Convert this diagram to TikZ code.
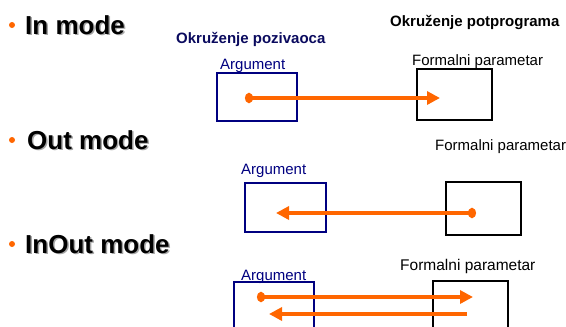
\documentclass[tikz,border=0pt]{standalone}
\usepackage{fontspec}
\setmainfont{Liberation Sans}
\usetikzlibrary{arrows.meta}
\definecolor{flow}{HTML}{FF6600}
\definecolor{callerblue}{HTML}{000080}
\definecolor{headblue}{HTML}{0A0A5E}
\tikzset{
  title/.style={anchor=base west, inner sep=0pt, font=\fontsize{26}{30}\selectfont\bfseries},
  titleshadow/.style={title, text=black!35},
  bulletdot/.style={circle, fill=flow, inner sep=0pt, minimum size=6pt},
  caption/.style={anchor=base west, inner sep=0pt, font=\fontsize{15}{18}\selectfont},
  heading/.style={caption, font=\fontsize{15}{18}\selectfont\bfseries},
  argbox/.style={draw=callerblue, line width=2pt, inner sep=0pt},
  parbox/.style={draw=black, line width=2pt, inner sep=0pt},
  flowline/.style={draw=flow, line width=4pt},
  dotstart/.style={flowline, {Circle[length=8pt,width=10pt]}-{Triangle[length=13pt,width=13pt]}},
  plainstart/.style={flowline, -{Triangle[length=13pt,width=13pt]}},
}
\begin{document}
\begin{tikzpicture}[x=1pt, y=-1pt]
\useasboundingbox (0,0) rectangle (566,327);
\clip (0,0) rectangle (566,327);

% mode headings with a soft drop shadow
\node[titleshadow] at (26.5,35.5) {In mode};
\node[title] (tin) at (25,34) {In mode};
\node[titleshadow] at (28.5,150.5) {Out mode};
\node[title] (tout) at (27,149) {Out mode};
\node[titleshadow] at (26.5,254.5) {InOut mode};
\node[title] (tinout) at (25,253) {InOut mode};
\node[bulletdot] (b1) at (12,25) {};
\node[bulletdot] (b2) at (12,140) {};
\node[bulletdot] (b3) at (12,244) {};

% environment headings
\node[heading, text=headblue] (envcaller) at (176,43) {Okruženje pozivaoca};
\node[heading] (envsub) at (390,26) {Okruženje potprograma};

% In mode
\node[argbox, minimum width=80pt, minimum height=48pt] (arg1) at (257,97) {};
\node[parbox, minimum width=75pt, minimum height=51pt] (par1) at (454.5,94.5) {};
\node[caption, text=callerblue] (arglab1) at (220,69) {Argument};
\node[caption] (parlab1) at (412,65) {Formalni parametar};
\coordinate (in-s) at (245,98);
\coordinate (in-e) at (440,98);
\draw[dotstart] (in-s) -- (in-e);

% Out mode
\node[argbox, minimum width=81pt, minimum height=49pt] (arg2) at (285.5,207.5) {};
\node[parbox, minimum width=75pt, minimum height=53pt] (par2) at (483.5,208.5) {};
\node[caption, text=callerblue] (arglab2) at (241,174) {Argument};
\node[caption] (parlab2) at (435,150) {Formalni parametar};
\coordinate (out-s) at (476,213);
\coordinate (out-e) at (276,213);
\draw[dotstart] (out-s) -- (out-e);

% InOut mode
\node[argbox, minimum width=80pt, minimum height=60pt] (arg3) at (274,312) {};
\node[parbox, minimum width=75pt, minimum height=60pt] (par3) at (470.5,311) {};
\node[caption, text=callerblue] (arglab3) at (241,280) {Argument};
\node[caption, font=\fontsize{15.5}{18}\selectfont] (parlab3) at (400,270) {Formalni parametar};
\coordinate (io-s1) at (257,297);
\coordinate (io-e1) at (473,297);
\coordinate (io-s2) at (467,314);
\coordinate (io-e2) at (269,314);
\draw[dotstart] (io-s1) -- (io-e1);
\draw[plainstart] (io-s2) -- (io-e2);
\end{tikzpicture}
\end{document}
